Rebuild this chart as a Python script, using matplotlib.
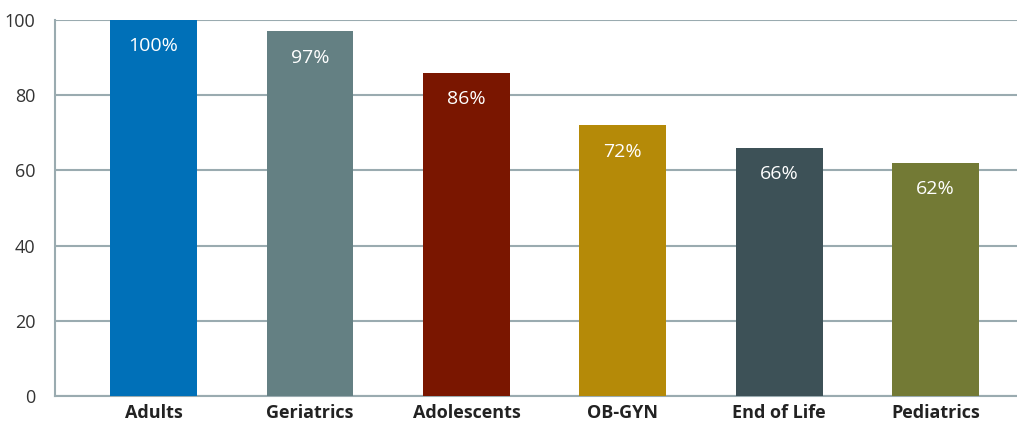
import numpy as np
import matplotlib.pyplot as plt

categories = ['Adults', 'Geriatrics', 'Adolescents', 'OB-GYN', 'End of Life', 'Pediatrics']
values = [100, 97, 86, 72, 66, 62]
colors = ['#0070b8', '#648083', '#7a1600', '#b58a08', '#3d5157', '#737a35']
yticks = [0, 20, 40, 60, 80, 100]

plt.rcParams['font.family'] = ['Open Sans', 'DejaVu Sans']

fig = plt.figure(figsize=(10.17, 4.23), dpi=100)
ax = fig.add_axes([55 / 1017, 27 / 423, 1 - 55 / 1017, 376 / 423])

x = np.arange(len(categories))
bars = ax.bar(x, values, width=0.555, color=colors, zorder=3)

for xi, v in zip(x, values):
    ax.text(xi, v - 7, '{}%'.format(v), ha='center', va='center',
            color='white', fontsize=14, zorder=4)

grid_color = '#9aabb0'
ax.set_ylim(0, 100)
ax.set_xlim(-0.63, 5.52)
ax.set_yticks(yticks)
ax.set_yticklabels([str(t) for t in yticks], fontsize=13, color='#333333')
ax.set_xticks(x)
ax.set_xticklabels(categories, fontsize=13, fontweight='bold', color='#222222')
ax.yaxis.grid(True, color=grid_color, linewidth=1.5, zorder=0)
ax.tick_params(axis='both', length=0)
ax.tick_params(axis='y', pad=14)
ax.tick_params(axis='x', pad=6)

for side in ['top', 'right']:
    ax.spines[side].set_visible(False)
ax.spines['left'].set_color(grid_color)
ax.spines['left'].set_linewidth(1.5)
ax.spines['bottom'].set_color(grid_color)
ax.spines['bottom'].set_linewidth(1.5)

fig.savefig('out.png', dpi=100)
